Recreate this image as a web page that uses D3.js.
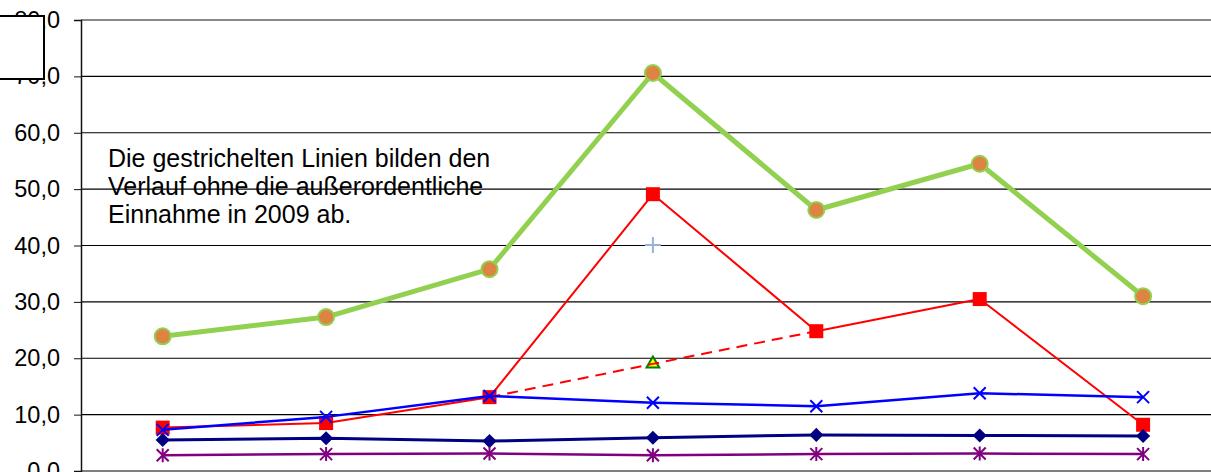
<!DOCTYPE html>
<html>
<head>
<meta charset="utf-8">
<script src="https://cdn.jsdelivr.net/npm/d3@7"></script>
<style>
  body { margin: 0; background: #fff; overflow: hidden; }
  svg { display: block; font-family: "Liberation Sans", Arial, sans-serif; }
</style>
</head>
<body>
<div id="chart"></div>
<script>
// Werte je Jahr, 2009 mit außerordentlicher Einnahme
const years = ['2006', '2007', '2008', '2009', '2010', '2011', '2012'];
const yTicks = [0, 10, 20, 30, 40, 50, 60, 70, 80];

const greenSeries  = [23.9, 27.3, 35.8, 70.6, 46.3, 54.5, 31.0];
const redSeries    = [7.7, 8.5, 13.1, 49.1, 24.8, 30.5, 8.2];
const redDashed    = [null, null, 13.1, 19.0, 24.8, null, null];
const blueSeries   = [7.3, 9.6, 13.3, 12.1, 11.5, 13.8, 13.1];
const navySeries   = [5.5, 5.8, 5.3, 5.9, 6.4, 6.3, 6.2];
const purpleSeries = [2.8, 3.0, 3.1, 2.8, 3.0, 3.1, 3.0];
const triangleOnly = [null, null, null, 19.0, null, null, null];
const plusOnly     = [null, null, null, 40.1, null, null, null];

const noteLines = [
  'Die gestrichelten Linien bilden den',
  'Verlauf ohne die außerordentliche',
  'Einnahme in 2009 ab.'
];

(function() {
  const width = 1211;
  const height = 472;
  const plotLeft = 81;
  const step = 163.4;

  const svg = d3.select('#chart')
    .append('svg')
    .attr('width', width)
    .attr('height', height);

  // x-axis labels sit below the cropped area, so only the scale is used
  const x = d3.scalePoint()
    .domain(years)
    .range([plotLeft, plotLeft + step * years.length])
    .padding(0.5);

  const y = d3.scaleLinear()
    .domain([0, 80])
    .range([471, 20]);

  const de = d3.formatLocale({ decimal: ',', thousands: '.', grouping: [3], currency: ['', ' €'] });
  const fmt = de.format('.1f');

  // gridlines
  svg.append('g')
    .selectAll('line')
    .data(yTicks)
    .enter()
    .append('line')
    .attr('x1', plotLeft)
    .attr('x2', width)
    .attr('y1', d => y(d))
    .attr('y2', d => y(d))
    .attr('stroke', d => d === 80 ? '#888' : '#000')
    .attr('stroke-width', d => d === 80 ? 2 : 1.2);

  // y axis
  const yAxis = svg.append('g')
    .attr('transform', `translate(${plotLeft},0)`)
    .call(d3.axisLeft(y).tickValues(yTicks).tickFormat(fmt).tickSize(7).tickPadding(14));
  yAxis.select('.domain').attr('stroke', '#111').attr('stroke-width', 1.5);
  yAxis.selectAll('.tick line').attr('stroke', '#111');
  yAxis.selectAll('text')
    .style('font-size', '23.5px')
    .style('font-family', '"Liberation Sans", Arial, sans-serif')
    .attr('fill', '#000');

  // note
  svg.append('text')
    .attr('x', 108)
    .attr('y', 167)
    .style('font-size', '25px')
    .attr('fill', '#000')
    .selectAll('tspan')
    .data(noteLines)
    .enter()
    .append('tspan')
    .attr('x', 108)
    .attr('dy', (d, i) => i === 0 ? 0 : 28)
    .text(d => d);

  const line = d3.line()
    .defined(d => d != null)
    .x((d, i) => x(years[i]))
    .y(d => y(d));

  function pts(values) {
    return values.map((v, i) => ({ year: years[i], value: v })).filter(d => d.value != null);
  }

  function drawLine(values, color, w, dash) {
    svg.append('path')
      .datum(values)
      .attr('fill', 'none')
      .attr('stroke', color)
      .attr('stroke-width', w)
      .attr('stroke-linejoin', 'round')
      .attr('stroke-dasharray', dash || null)
      .attr('d', line);
  }

  function drawSymbols(values, type, size, fill, stroke, sw, rotate) {
    svg.append('g')
      .selectAll('path')
      .data(pts(values))
      .enter()
      .append('path')
      .attr('transform', d => `translate(${x(d.year)},${y(d.value)})` + (rotate ? ` rotate(${rotate})` : ''))
      .attr('d', d3.symbol().type(type).size(size))
      .attr('fill', fill)
      .attr('stroke', stroke)
      .attr('stroke-width', sw);
  }

  function drawPathMarks(values, d, color) {
    svg.append('g')
      .selectAll('path')
      .data(pts(values))
      .enter()
      .append('path')
      .attr('transform', p => `translate(${x(p.year)},${y(p.value)})`)
      .attr('d', d)
      .attr('fill', 'none')
      .attr('stroke', color)
      .attr('stroke-width', 2);
  }

  // green total
  drawLine(greenSeries, '#92D050', 5);
  svg.append('g')
    .selectAll('circle')
    .data(pts(greenSeries))
    .enter()
    .append('circle')
    .attr('cx', d => x(d.year))
    .attr('cy', d => y(d.value))
    .attr('r', 8)
    .attr('fill', '#DD8443')
    .attr('stroke', '#92D050')
    .attr('stroke-width', 2);

  // plus marker
  drawPathMarks(plusOnly, 'M-8,0H8M0,-8V8', '#95B3D7');

  // red
  drawLine(redSeries, '#FF0000', 2);
  drawSymbols(redSeries, d3.symbolSquare, 196, '#FF0000', 'none', 0);

  // triangle + dashed red
  drawSymbols(triangleOnly, d3.symbolTriangle, 70, '#FFFF00', '#008000', 2);
  drawLine(redDashed, '#FF0000', 2, '11,7');

  // blue
  drawLine(blueSeries, '#0000FF', 2.5);
  drawPathMarks(blueSeries, 'M-6,-6L6,6M-6,6L6,-6', '#0000FF');

  // navy
  drawLine(navySeries, '#000080', 3);
  drawSymbols(navySeries, d3.symbolSquare, 100, '#000080', 'none', 0, 45);

  // purple
  drawLine(purpleSeries, '#800080', 2.5);
  drawPathMarks(purpleSeries, 'M-6,-6L6,6M-6,6L6,-6M0,-7V7', '#800080');

  // cut-off legend box at top left
  svg.append('rect')
    .attr('x', -2)
    .attr('y', 16)
    .attr('width', 46)
    .attr('height', 63)
    .attr('fill', '#fff')
    .attr('stroke', '#000')
    .attr('stroke-width', 2);
})();
</script>
</body>
</html>
